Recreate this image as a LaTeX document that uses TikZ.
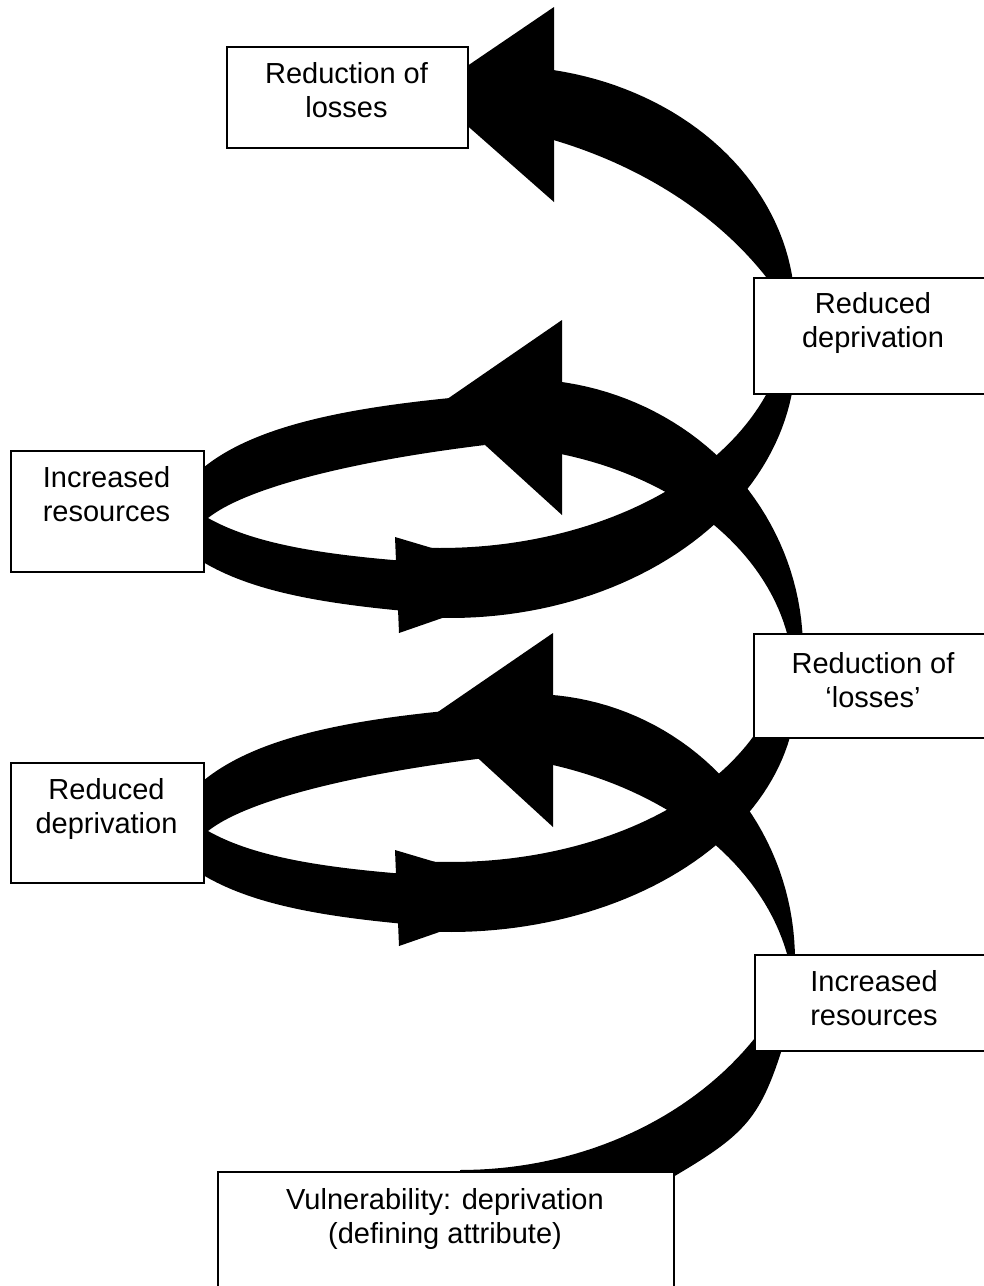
\documentclass[tikz,border=0pt]{standalone}
\usepackage{fontspec}
\setmainfont{Liberation Sans}
\begin{document}
\begin{tikzpicture}[x=0.5pt,y=-0.5pt,
  box/.style={draw=black,line width=0.75pt,fill=white,rectangle,inner sep=0pt,anchor=north west},
  lbl/.style={align=center,anchor=base,inner sep=0pt,font=\fontsize{14.5pt}{17pt}\selectfont},
  band/.style={fill=black}]
\useasboundingbox (0,0) rectangle (984,1286);
\clip (0,0) rectangle (984,1286);

% ---- curved block arrows (drawn first, boxes sit on top) ----
% Vulnerability -> Increased resources (right)
\path[band] plot[domain=90:27.8,samples=40] ({460+356*cos(\x)},{870+300*sin(\x)})
  -- (795,1005) -- (788,1030) .. controls (761.9,1116.1) and (750.6,1131.4) .. (673,1177)
  -- (640,1195) -- (460,1185) -- cycle;

% Increased resources (right) -> Reduced deprivation (left)
\path[band] plot[domain=-86.3:0,samples=40] ({530+265*cos(\x)},{960+266*sin(\x)})
  -- plot[domain=-6.85:-73.6,samples=40] ({450+344.2*cos(\x)},{1005+251.5*sin(\x)}) -- cycle;
\path[band] (553,633) -- (432,716) -- (553,827) -- cycle;

% lower loop round Reduced deprivation (left)
\path[band] (445,711) .. controls (345,721) and (255,738) .. (203,781)
  -- (180,813) -- (180,853) -- (203,875)
  .. controls (250,903) and (315.4,915.7) .. (405,924)
  -- (405,874) .. controls (315.3,866.8) and (251.5,855.5) .. (208,831)
  .. controls (247,800) and (356,773.6) .. (485,758) -- cycle;
\path[band] (395,850) -- (546,895) -- (399,946) -- cycle;

% Reduced deprivation (left) -> Reduction of 'losses'
\path[band] plot[domain=93.3:5.9,samples=50] ({450+346.6*cos(\x)},{690+242*sin(\x)})
  -- plot[domain=19.7:93.4,samples=50] ({450+336.8*cos(\x)},{640+222*sin(\x)}) -- cycle;

% Reduction of 'losses' -> Increased resources (left)
\path[band] plot[domain=-82.7:0,samples=40] ({520+283*cos(\x)},{650+271*sin(\x)})
  -- plot[domain=-7.3:-75.5,samples=40] ({475+318.4*cos(\x)},{680+234.7*sin(\x)}) -- cycle;
\path[band] (562,320) -- (440,404) -- (562,515) -- cycle;

% upper loop round Increased resources (left)
\path[band] (450,398) .. controls (350,408) and (255,425) .. (203,468)
  -- (180,500) -- (180,540) -- (203,562)
  .. controls (250,590) and (315.4,602.7) .. (405,611)
  -- (405,561) .. controls (315.3,553.8) and (251.5,542.5) .. (208,518)
  .. controls (247,487) and (356,460.6) .. (485,445) -- cycle;
\path[band] (395,537) -- (546,582) -- (399,633) -- cycle;

% Increased resources (left) -> Reduced deprivation (right)
\path[band] plot[domain=93.3:3.3,samples=50] ({450+345.6*cos(\x)},{355+263*sin(\x)})
  -- plot[domain=14.6:91.6,samples=50] ({440+349*cos(\x)},{310+238*sin(\x)}) -- cycle;

% Reduced deprivation (right) -> Reduction of losses
\path[band] plot[domain=-81.5:0,samples=40] ({500+295*cos(\x)},{310+244*sin(\x)})
  -- plot[domain=-27:-70,samples=40] ({400+429*cos(\x)},{450+332*sin(\x)}) -- cycle;
\path[band] (554,7) -- (429,92) -- (554,202) -- cycle;

% ---- boxes ----
\node[box,minimum width=120.5pt,minimum height=50.5pt] (b1) at (226,46) {};
\node[box,minimum width=120pt,minimum height=58pt] (b2) at (753,277) {};
\node[box,minimum width=96.5pt,minimum height=60.5pt] (b3) at (10,450) {};
\node[box,minimum width=120pt,minimum height=52pt] (b4) at (753,633) {};
\node[box,minimum width=96.5pt,minimum height=60pt] (b5) at (10,762) {};
\node[box,minimum width=120pt,minimum height=48pt] (b6) at (754,954) {};
\node[box,minimum width=228pt,minimum height=64.5pt] (b7) at (217,1171) {};

% ---- texts (anchored at the baseline of the last line) ----
\node[lbl] (t1) at (346.5,117) {Reduction of\\losses};
\node[lbl] (t2) at (873,347) {Reduced\\deprivation};
\node[lbl] (t3) at (106.5,521) {Increased\\resources};
\node[lbl] (t4) at (873,707) {Reduction of\\‘losses’};
\node[lbl] (t5) at (106.5,833) {Reduced\\deprivation};
\node[lbl] (t6) at (874,1025) {Increased\\resources};
\node[lbl] (t7) at (445,1243) {Vulnerability: deprivation\\(defining attribute)};
\end{tikzpicture}
\end{document}
